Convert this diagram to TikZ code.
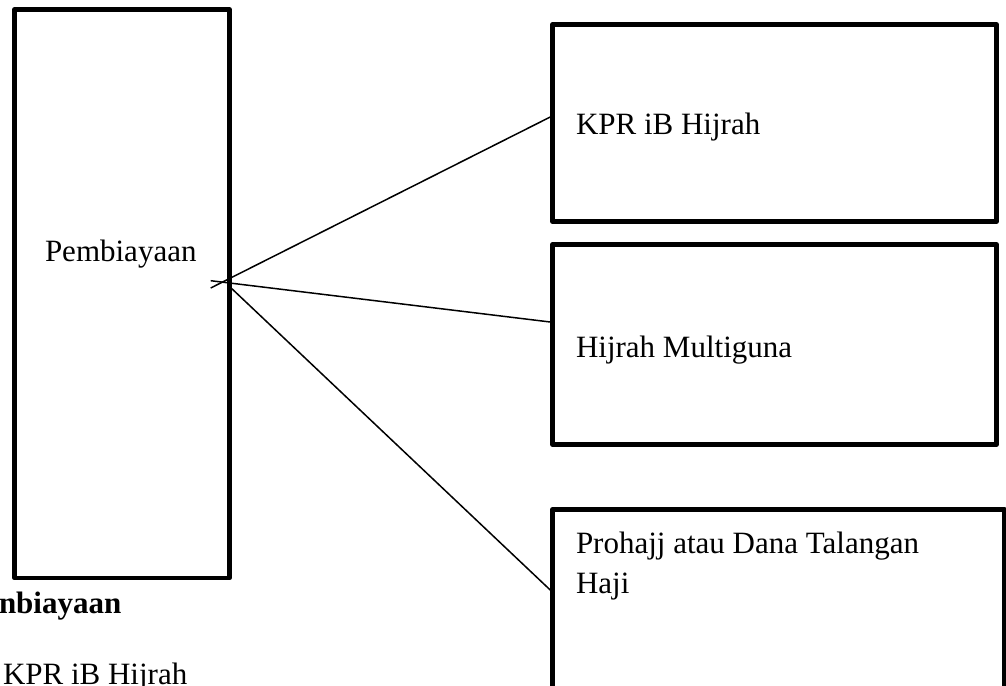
\documentclass[tikz,border=0pt]{standalone}
\usepackage{fontspec}
\setmainfont{Liberation Serif}
\usetikzlibrary{calc}
\begin{document}
\begin{tikzpicture}[x=1pt,y=-1pt,
  box/.style={draw=black,line width=4.5pt,line join=round,rectangle,inner sep=0pt,outer sep=0pt},
  lbl/.style={inner sep=0pt,outer sep=0pt,font=\fontsize{31}{36}\selectfont},
  conn/.style={draw=black,line width=1.5pt}]
\clip (0,0) rectangle (1006,685);
\fill[white] (0,0) rectangle (1006,685);
% boxes
\node[box,minimum width=215pt,minimum height=568.5pt] (L) at (122,293.75) {};
\node[box,minimum width=444pt,minimum height=197pt] (B1) at (774.5,123) {};
\node[box,minimum width=444pt,minimum height=200pt] (B2) at (774.5,344.5) {};
\node[box,minimum width=452pt,minimum height=200pt] (B3) at (778.5,609.5) {};
% labels
\node[lbl,anchor=base west] (tL) at (45,261) {Pembiayaan};
\node[lbl,anchor=base west] (t1) at (576,134) {KPR iB Hijrah};
\node[lbl,anchor=base west] (t2) at (576,357) {Hijrah Multiguna};
\node[lbl,anchor=base west] (t3a) at (576,553) {Prohajj atau Dana Talangan};
\node[lbl,anchor=base west] (t3b) at (576,593) {Haji};
\node[lbl,anchor=base west,font=\fontsize{31}{36}\selectfont\bfseries] (tb1) at (-1,613) {nbiayaan};
\node[lbl,anchor=base west] (tb2) at (3,684) {KPR iB Hijrah};
% connectors
\coordinate (s1) at (210.7,288);
\coordinate (s2) at (210.7,280.7);
\coordinate (s3) at (229,286);
\coordinate (e1) at ($(B1.west)+(-2.25,-6)$);
\coordinate (e2) at ($(B2.west)+(-2.25,-22.5)$);
\coordinate (e3) at ($(B3.north west)+(-2.25,80.5)$);
\draw[conn] (s1) -- (e1);
\draw[conn] (s2) -- (e2);
\draw[conn] (s3) -- (e3);
\end{tikzpicture}
\end{document}
